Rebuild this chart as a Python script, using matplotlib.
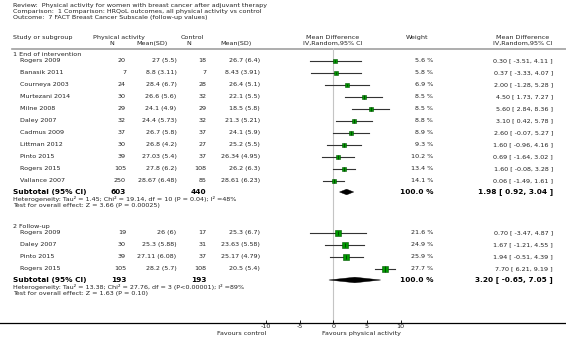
import numpy as np
import matplotlib.pyplot as plt
from matplotlib.patches import Polygon

plt.rcParams['axes.unicode_minus'] = False

# ---- data ----
g1_study = ['Rogers 2009', 'Banasik 2011', 'Courneya 2003', 'Murtezani 2014', 'Milne 2008',
            'Daley 2007', 'Cadmus 2009', 'Littman 2012', 'Pinto 2015', 'Rogers 2015', 'Vallance 2007']
g1_pa_n = [20, 7, 24, 30, 29, 32, 37, 30, 39, 105, 250]
g1_pa_msd = ['27 (5.5)', '8.8 (3.11)', '28.4 (6.7)', '26.6 (5.6)', '24.1 (4.9)', '24.4 (5.73)',
             '26.7 (5.8)', '26.8 (4.2)', '27.03 (5.4)', '27.8 (6.2)', '28.67 (6.48)']
g1_c_n = [18, 7, 28, 32, 29, 32, 37, 27, 37, 108, 85]
g1_c_msd = ['26.7 (6.4)', '8.43 (3.91)', '26.4 (5.1)', '22.1 (5.5)', '18.5 (5.8)', '21.3 (5.21)',
            '24.1 (5.9)', '25.2 (5.5)', '26.34 (4.95)', '26.2 (6.3)', '28.61 (6.23)']
g1_weight = [5.6, 5.8, 6.9, 8.5, 8.5, 8.8, 8.9, 9.3, 10.2, 13.4, 14.1]
g1_md = [0.30, 0.37, 2.00, 4.50, 5.60, 3.10, 2.60, 1.60, 0.69, 1.60, 0.06]
g1_lo = [-3.51, -3.33, -1.28, 1.73, 2.84, 0.42, -0.07, -0.96, -1.64, -0.08, -1.49]
g1_hi = [4.11, 4.07, 5.28, 7.27, 8.36, 5.78, 5.27, 4.16, 3.02, 3.28, 1.61]
g1_total = (603, 440, 1.98, 0.92, 3.04)
g1_het = 'Heterogeneity: Tau² = 1.45; Chi² = 19.14, df = 10 (P = 0.04); I² =48%'
g1_test = 'Test for overall effect: Z = 3.66 (P = 0.00025)'

g2_study = ['Rogers 2009', 'Daley 2007', 'Pinto 2015', 'Rogers 2015']
g2_pa_n = [19, 30, 39, 105]
g2_pa_msd = ['26 (6)', '25.3 (5.88)', '27.11 (6.08)', '28.2 (5.7)']
g2_c_n = [17, 31, 37, 108]
g2_c_msd = ['25.3 (6.7)', '23.63 (5.58)', '25.17 (4.79)', '20.5 (5.4)']
g2_weight = [21.6, 24.9, 25.9, 27.7]
g2_md = [0.70, 1.67, 1.94, 7.70]
g2_lo = [-3.47, -1.21, -0.51, 6.21]
g2_hi = [4.87, 4.55, 4.39, 9.19]
g2_total = (193, 193, 3.20, -0.65, 7.05)
g2_het = 'Heterogeneity: Tau² = 13.38; Chi² = 27.76, df = 3 (P<0.00001); I² =89%'
g2_test = 'Test for overall effect: Z = 1.63 (P = 0.10)'

ticks = [-10, -5, 0, 5, 10]

# ---- layout (pixels) ----
W, H = 566, 353
AX_TOP, AX_BOT = 48, 323
ZERO_PX, PX_PER_UNIT = 333.3, 6.72
X_LEFT, X_NAME = 13, 20
X_PAN, X_PAM, X_CN, X_CM = 126, 176.5, 206.5, 260
X_W, X_CI = 433, 553
FS, FS_SM, FS_B = 4.6, 4.6, 5.3
TC = '#222222'

fig = plt.figure(figsize=(W / 100, H / 100), dpi=100)
txt = fig.add_axes([0, 0, 1, 1])
txt.set_xlim(0, W)
txt.set_ylim(H, 0)
txt.axis('off')

ax = fig.add_axes([0, (H - AX_BOT) / H, 1, (AX_BOT - AX_TOP) / H])
ax.set_ylim(AX_BOT, AX_TOP)
ax.set_xlim(-ZERO_PX / PX_PER_UNIT, (W - ZERO_PX) / PX_PER_UNIT)
ax.patch.set_alpha(0)
for s in ['top', 'right', 'left']:
    ax.spines[s].set_visible(False)
ax.spines['bottom'].set_linewidth(0.9)
ax.set_yticks([])
ax.set_xticks(ticks)
ax.set_xticklabels([str(t) for t in ticks])
ax.tick_params(axis='x', direction='in', length=2, width=0.6, pad=1, labelsize=FS, labelcolor=TC)
ax.axvline(0, color='#c4c4c4', lw=0.8, zorder=0)

# title block
txt.text(X_LEFT, 5.5, 'Review:  Physical activity for women with breast cancer after adjuvant therapy',
         fontsize=FS, color=TC, va='center')
txt.text(X_LEFT, 11.5, 'Comparison:  1 Comparison: HRQoL outcomes, all physical activity vs control',
         fontsize=FS, color=TC, va='center')
txt.text(X_LEFT, 17.5, 'Outcome:  7 FACT Breast Cancer Subscale (follow-up values)',
         fontsize=FS, color=TC, va='center')

# column headers
txt.text(X_LEFT, 37.7, 'Study or subgroup', fontsize=FS, color=TC, va='center')
txt.text(93, 37.7, 'Physical activity', fontsize=FS, color=TC, va='center')
txt.text(111.7, 43.3, 'N', fontsize=FS, color=TC, va='center', ha='center')
txt.text(168, 43.3, 'Mean(SD)', fontsize=FS, color=TC, va='center', ha='right')
txt.text(180.7, 37.7, 'Control', fontsize=FS, color=TC, va='center')
txt.text(189, 43.3, 'N', fontsize=FS, color=TC, va='center', ha='center')
txt.text(251.7, 43.3, 'Mean(SD)', fontsize=FS, color=TC, va='center', ha='right')
txt.text(333, 37.7, 'Mean Difference', fontsize=FS, color=TC, va='center', ha='center')
txt.text(333, 43.3, 'IV,Random,95% CI', fontsize=FS, color=TC, va='center', ha='center')
txt.text(417, 37.7, 'Weight', fontsize=FS, color=TC, va='center', ha='center')
txt.text(523, 37.7, 'Mean Difference', fontsize=FS, color=TC, va='center', ha='center')
txt.text(523, 43.3, 'IV,Random,95% CI', fontsize=FS, color=TC, va='center', ha='center')
txt.axhline(48.7, xmin=12 / W, xmax=1, color='#a0a0a0', lw=1.2)


def draw_group(label, y_head, y0, study, pa_n, pa_msd, c_n, c_msd, weight, md, lo, hi, total, het, test):
    txt.text(X_LEFT, y_head, label, fontsize=FS, color=TC, va='center')
    ys = y0 + 12 * np.arange(len(study))
    for i, y in enumerate(ys):
        txt.text(X_NAME, y, study[i], fontsize=FS, color=TC, va='center')
        txt.text(X_PAN, y, str(pa_n[i]), fontsize=FS, color=TC, va='center', ha='right')
        txt.text(X_PAM, y, pa_msd[i], fontsize=FS, color=TC, va='center', ha='right')
        txt.text(X_CN, y, str(c_n[i]), fontsize=FS, color=TC, va='center', ha='right')
        txt.text(X_CM, y, c_msd[i], fontsize=FS, color=TC, va='center', ha='right')
        txt.text(X_W, y, f'{weight[i]:.1f} %', fontsize=FS_SM, color=TC, va='center', ha='right')
        txt.text(X_CI, y, f'{md[i]:.2f} [ {lo[i]:.2f}, {hi[i]:.2f} ]', fontsize=FS_SM, color=TC,
                 va='center', ha='right')
        ax.plot([lo[i], hi[i]], [y, y], color='#333333', lw=0.8, zorder=2)
        side = (1.1 * np.sqrt(weight[i]) + 0.6) * 0.72
        ax.plot(md[i], y, marker='s', ms=side, mfc='#009a00', mec='#005500', mew=0.4, zorder=3)
        ax.plot(md[i], y, marker='|', ms=side * 0.8, color='#002a00', mew=0.5, zorder=4)
    ys_tot = ys[-1] + 11.5
    n1, n2, m, l, h = total
    txt.text(X_LEFT, ys_tot, 'Subtotal (95% CI)', fontsize=FS_B, weight='bold', color='black', va='center')
    txt.text(X_PAN, ys_tot, str(n1), fontsize=FS_B, weight='bold', color='black', va='center', ha='right')
    txt.text(X_CN, ys_tot, str(n2), fontsize=FS_B, weight='bold', color='black', va='center', ha='right')
    txt.text(X_W, ys_tot, '100.0 %', fontsize=FS_B, weight='bold', color='black', va='center', ha='right')
    txt.text(X_CI, ys_tot, f'{m:.2f} [ {l:.2f}, {h:.2f} ]', fontsize=FS_B, weight='bold', color='black',
             va='center', ha='right')
    ax.add_patch(Polygon([(l, ys_tot), (m, ys_tot - 2.8), (h, ys_tot), (m, ys_tot + 2.8)],
                         closed=True, fc='black', ec='black', lw=0.3, zorder=3))
    txt.text(X_LEFT, ys_tot + 7, het, fontsize=FS, color=TC, va='center')
    txt.text(X_LEFT, ys_tot + 13, test, fontsize=FS, color=TC, va='center')


draw_group('1 End of intervention', 54.3, 60.5, g1_study, g1_pa_n, g1_pa_msd, g1_c_n, g1_c_msd,
           g1_weight, g1_md, g1_lo, g1_hi, g1_total, g1_het, g1_test)
draw_group('2 Follow-up', 226.7, 232.5, g2_study, g2_pa_n, g2_pa_msd, g2_c_n, g2_c_msd,
           g2_weight, g2_md, g2_lo, g2_hi, g2_total, g2_het, g2_test)

txt.text(266, 333.7, 'Favours control', fontsize=FS, color=TC, va='center', ha='right')
txt.text(321.7, 333.7, 'Favours physical activity', fontsize=FS, color=TC, va='center', ha='left')

fig.savefig('out.png', dpi=100)
